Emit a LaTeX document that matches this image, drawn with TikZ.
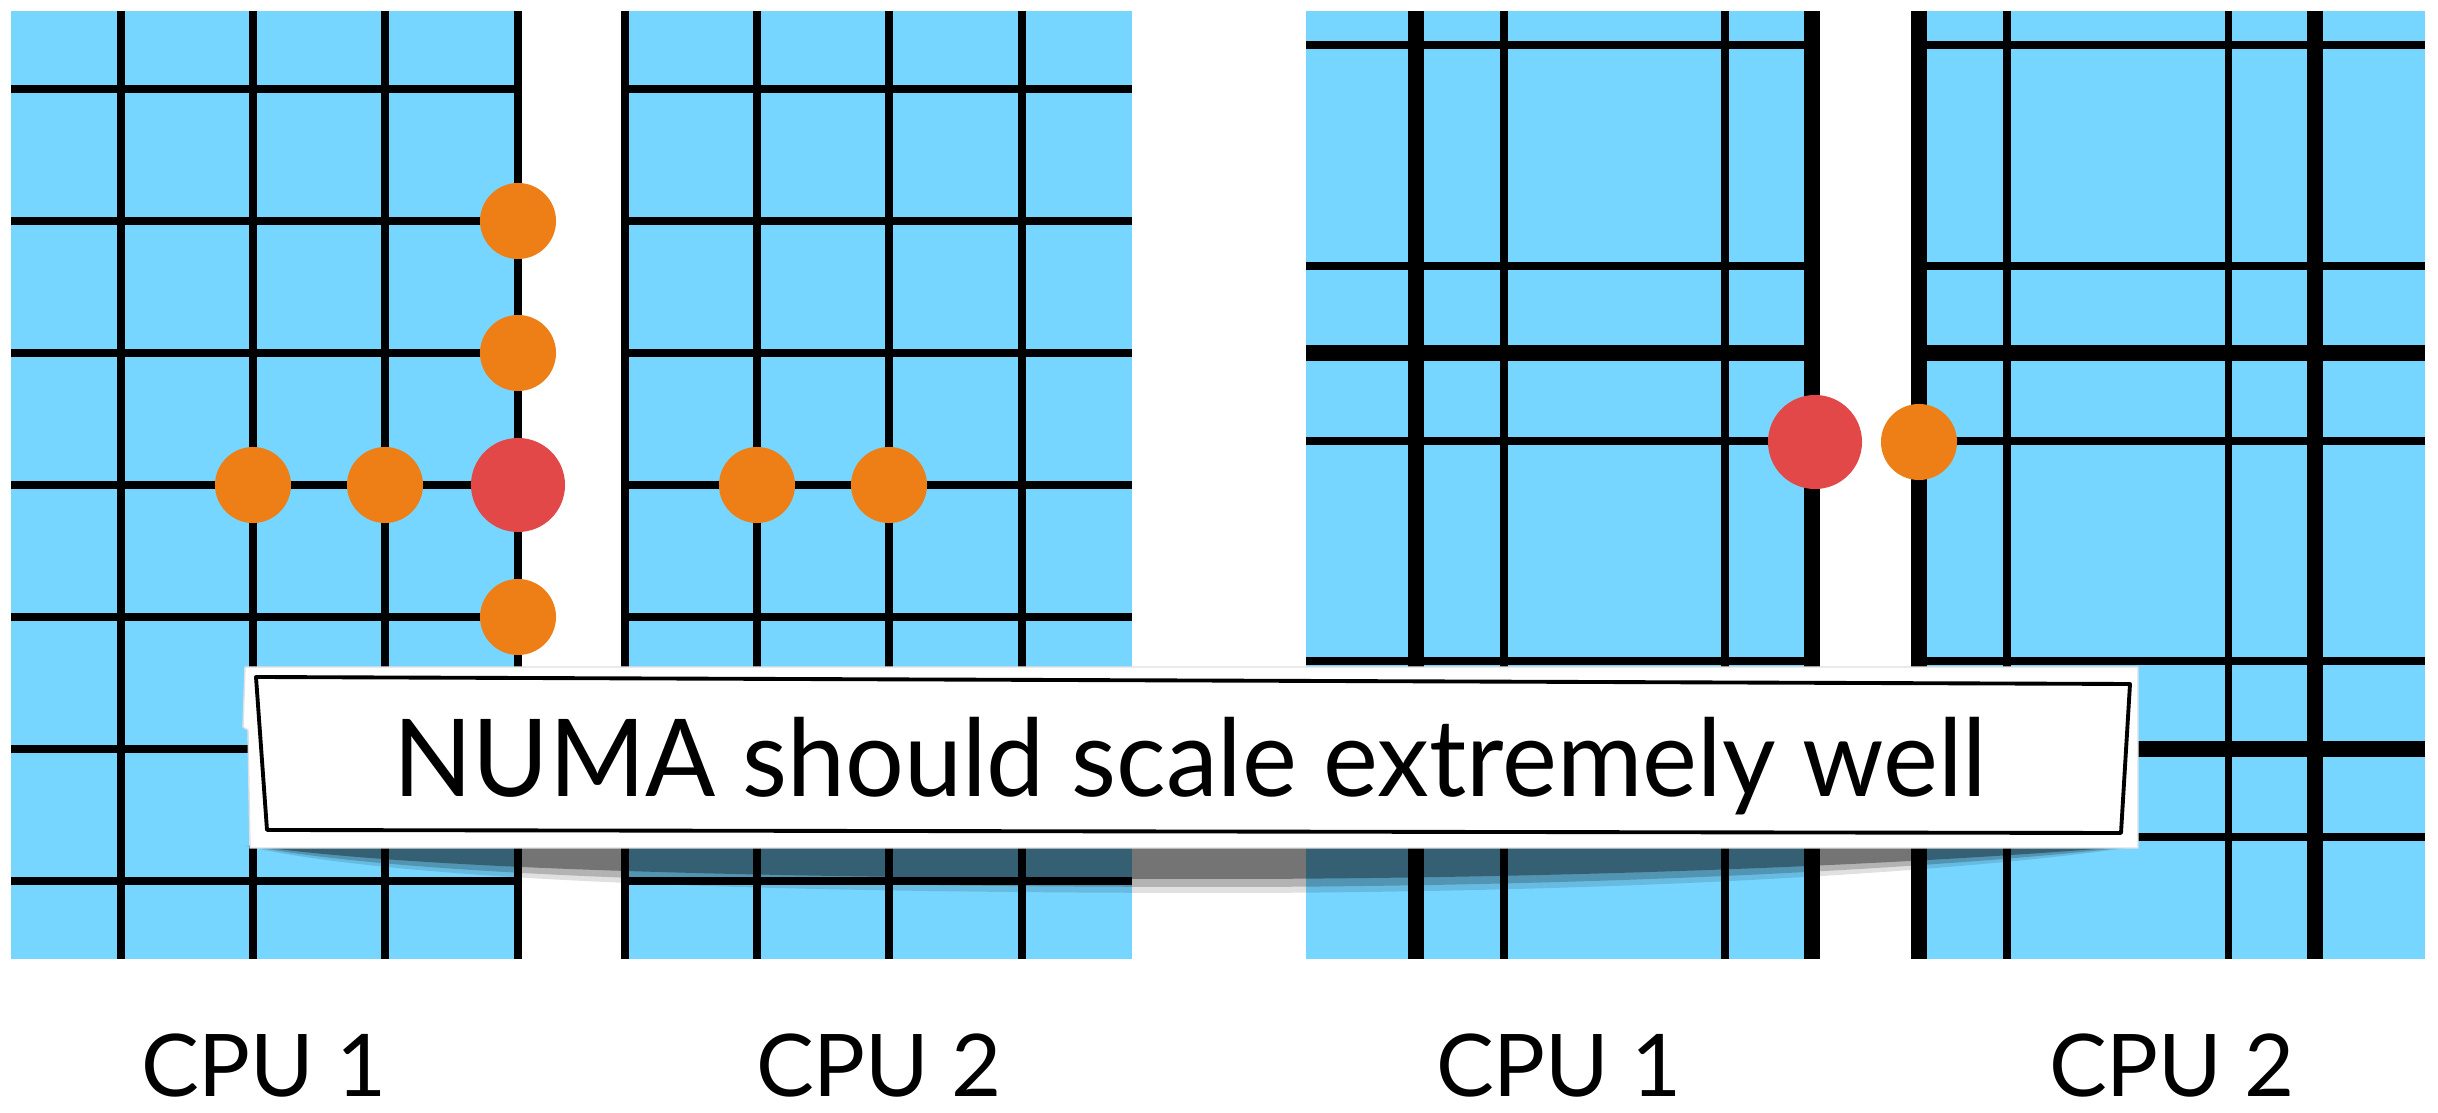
\documentclass[tikz,border=0pt]{standalone}
\usepackage{fontspec}
\setmainfont{Lato}
\newfontfamily\bannerfont[FakeStretch=0.965]{Lato}
\definecolor{meshblue}{HTML}{76D6FF}
\definecolor{cellorange}{HTML}{EE7F17}
\definecolor{cellred}{HTML}{E34848}
\tikzset{
  socket_/.style = {fill=meshblue},
  thin_/.style   = {line width=2pt},
  thick_/.style  = {line width=4.5pt},
  halo_/.style   = {shape=circle, fill=cellorange, minimum size=0.76cm},
  owner_/.style  = {shape=circle, fill=cellred, minimum size=0.94cm},
  cpu_/.style    = {anchor=base, font=\fontsize{24.6}{28}\selectfont},
  banner_/.style = {anchor=base, font=\bannerfont\fontsize{30.6}{34}\selectfont}
}

\begin{document}
\begin{tikzpicture}
  [
    x                 = 0.01cm,
    y                 = -0.01cm,
    every node/.style = {inner sep=0pt}
  ]
  \fill[white] (0,0) rectangle (2438,1113);
  \useasboundingbox (0,0) rectangle (2438,1113);

  % fine mesh split over two sockets
  \fill[socket_] (11,11) rectangle (518,959);
  \fill[socket_] (625,11) rectangle (1132,959);
  \foreach \y in {89,221,353,485,617,749,881} {
    \draw[thin_] (11,\y) -- (518,\y);
    \draw[thin_] (625,\y) -- (1132,\y);
  }
  \foreach \x in {121,253,385,518,625,757,889,1022}
    \draw[thin_] (\x,11) -- (\x,959);

  % coarse mesh split over two sockets
  \fill[socket_] (1306,11) rectangle (1812,959);
  \fill[socket_] (1919,11) rectangle (2425,959);
  \foreach \y in {45,266,441,661,837} {
    \draw[thin_] (1306,\y) -- (1812,\y);
    \draw[thin_] (1919,\y) -- (2425,\y);
  }
  \foreach \y in {353,749} {
    \draw[thick_] (1306,\y) -- (1812,\y);
    \draw[thick_] (1919,\y) -- (2425,\y);
  }
  \foreach \x in {1504,1725,2007,2228}
    \draw[thin_] (\x,11) -- (\x,959);
  \foreach \x in {1416,1812,1919,2315}
    \draw[thick_] (\x,11) -- (\x,959);

  % cell and its halo, fine mesh
  \node[owner_] (own)  at (518,485) {};
  \node[halo_]  (up2)  at (518,221) {};
  \node[halo_]  (up1)  at (518,353) {};
  \node[halo_]  (dn1)  at (518,617) {};
  \node[halo_]  (lf2)  at (253,485) {};
  \node[halo_]  (lf1)  at (385,485) {};
  \node[halo_]  (rt1)  at (757,485) {};
  \node[halo_]  (rt2)  at (889,485) {};

  % cell and its halo, coarse mesh
  \node[owner_] (ownB) at (1815,442) {};
  \node[halo_]  (rtB)  at (1919,442) {};

  % shadow under the banner
  \fill[black, opacity=.12] (245,846) .. controls (430,888) and (900,893) .. (1250,893)
    .. controls (1700,891) and (2000,867) .. (2140,846) -- cycle;
  \fill[black, opacity=.2] (250,846) .. controls (440,882) and (900,887) .. (1250,887)
    .. controls (1700,885) and (2000,862) .. (2138,846) -- cycle;
  \fill[black, opacity=.35] (255,846) .. controls (450,874) and (900,879) .. (1250,879)
    .. controls (1700,877) and (2000,857) .. (2135,846) -- cycle;

  % banner
  \fill[white, draw=black!12, line width=0.4pt] (245,667) -- (2138,667) -- (2138,848)
    -- (250,848) -- (248,730) -- (243,727) -- cycle;
  \draw[line width=1.1pt, line join=round] (256,677) -- (2130,684) -- (2121,833)
    -- (267,830) -- cycle;
  \node[banner_] (msg) at (1190,797) {NUMA should scale extremely well};

  % socket labels
  \node[cpu_] (cpuA1) at (264,1097)  {CPU 1};
  \node[cpu_] (cpuA2) at (879,1097)  {CPU 2};
  \node[cpu_] (cpuB1) at (1559,1097) {CPU 1};
  \node[cpu_] (cpuB2) at (2172,1097) {CPU 2};
\end{tikzpicture}
\end{document}
